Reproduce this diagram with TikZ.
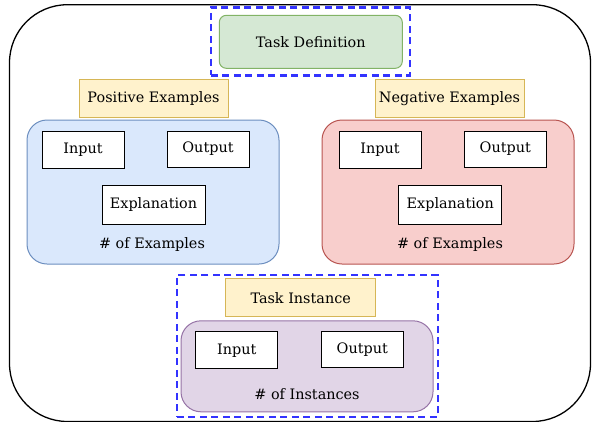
\documentclass[tikz,border=0pt]{standalone}
\usepackage{fontspec}
\setmainfont{DejaVu Serif}
\usepackage{tikz}
\usetikzlibrary{positioning}
\definecolor{defFill}{HTML}{D5E8D4}\definecolor{defLine}{HTML}{82B366}
\definecolor{tagFill}{HTML}{FFF2CC}\definecolor{tagLine}{HTML}{D6B656}
\definecolor{posFill}{HTML}{DAE8FC}\definecolor{posLine}{HTML}{6C8EBF}
\definecolor{negFill}{HTML}{F8CECC}\definecolor{negLine}{HTML}{B85450}
\definecolor{insFill}{HTML}{E1D5E7}\definecolor{insLine}{HTML}{9673A6}
\definecolor{dashBlue}{HTML}{3333FF}
\tikzset{
  every node/.style={font=\fontsize{14.4}{16}\selectfont,inner sep=0pt},
  tag/.style={draw=tagLine,fill=tagFill,line width=1pt,minimum width=149pt,minimum height=38pt},
  group/.style={rounded corners=20pt,line width=1pt,minimum width=252pt},
  field/.style={draw,fill=white,line width=1pt,minimum width=82pt,minimum height=37pt},
  focus/.style={draw=dashBlue,line width=2.5pt,dash pattern=on 7pt off 4.5pt},
}
\begin{document}
\begin{tikzpicture}[x=1pt,y=-1pt]
  \useasboundingbox (0,0) rectangle (592,421);
  \draw[line width=1.3pt,rounded corners=58pt] (9.5,4.7) rectangle (590.5,421.5); % outer frame
  % task definition
  \node[focus,minimum width=199pt,minimum height=68pt] (defFrame) at (310.4,41.3) {};
  \node[draw=defLine,fill=defFill,line width=1pt,rounded corners=7pt,
        minimum width=183pt,minimum height=53pt] (taskDef) at (310.8,41.8) {Task Definition};
  % positive examples
  \node[tag] (posTag) at (153.5,98.6) {Positive Examples};
  \node[group,draw=posLine,fill=posFill,minimum height=144pt] (posBox) at (153,192) {};
  \node[field] (posIn) at (83,149.5) {Input};
  \node[field,minimum height=36pt] (posOut) at (208,149) {Output};
  \node[field,minimum width=103pt,minimum height=39pt] (posExp) at (153.5,204.5) {Explanation};
  \node (posNum) at (152,245) {\# of Examples};
  % negative examples
  \node[tag] (negTag) at (449.5,98.6) {Negative Examples};
  \node[group,draw=negLine,fill=negFill,minimum height=144pt] (negBox) at (448,192) {};
  \node[field] (negIn) at (380,149.5) {Input};
  \node[field,minimum height=36pt] (negOut) at (505.3,149) {Output};
  \node[field,minimum width=103pt,minimum height=39pt] (negExp) at (450.3,204.5) {Explanation};
  \node (negNum) at (450,245) {\# of Examples};
  % task instance
  \node[focus,minimum width=261pt,minimum height=142pt] (insFrame) at (307.3,345.8) {};
  \node[tag,minimum width=150pt] (insTag) at (300.7,297.8) {Task Instance};
  \node[group,draw=insLine,fill=insFill,minimum height=91pt] (insBox) at (307,366.3) {};
  \node[field] (insIn) at (236.8,350.3) {Input};
  \node[field,minimum height=36pt] (insOut) at (362.3,349.5) {Output};
  \node (insNum) at (307,394) {\# of Instances};
\end{tikzpicture}
\end{document}
